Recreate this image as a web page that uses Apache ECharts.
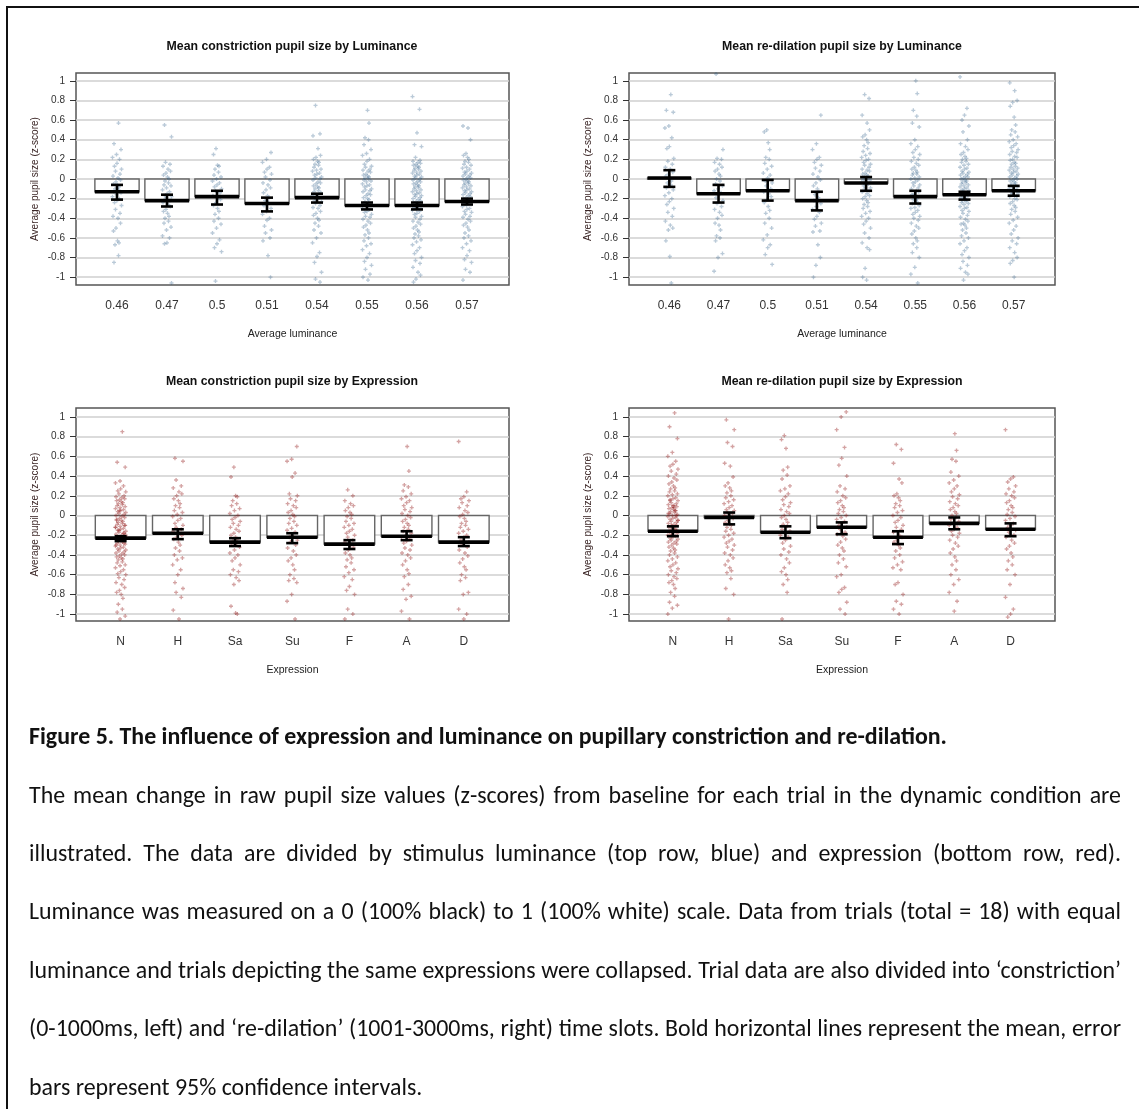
<!DOCTYPE html>
<html>
<head>
<meta charset="utf-8">
<title>Figure 5</title>
<script src="https://cdn.jsdelivr.net/npm/echarts@6/dist/echarts.min.js"></script>
<style>
  html, body { margin: 0; padding: 0; background: #fff; }
  #page { position: relative; width: 1139px; height: 1109px; overflow: hidden; background: #fff; }
  #chart { position: absolute; left: 0; top: 0; width: 1139px; height: 700px; }
  #frame { position: absolute; left: 6px; top: 6px; width: 1200px; height: 1200px;
           border-left: 2px solid #111; border-top: 2px solid #111; pointer-events: none; }
  .cap { position: absolute; left: 29px; width: 1092px; height: 30px; line-height: 30px;
         font-family: "Carlito", "Liberation Sans Narrow", "DejaVu Sans Condensed", "Liberation Sans", sans-serif;
         font-size: 24px; color: #111; white-space: nowrap; }
  .cap.just { text-align: justify; text-align-last: justify; }
  .cap.bold { font-weight: bold; }
</style>
</head>
<body>
<div id="page">
  <div id="chart"></div>
  <div id="frame"></div>
  <div class="cap bold" style="top:721px">Figure 5. The influence of expression and luminance on pupillary constriction and re-dilation.</div>
  <div class="cap just" style="top:780px">The mean change in raw pupil size values (z-scores) from baseline for each trial in the dynamic condition are</div>
  <div class="cap just" style="top:838px">illustrated. The data are divided by stimulus luminance (top row, blue) and expression (bottom row, red).</div>
  <div class="cap just" style="top:896px">Luminance was measured on a 0 (100% black) to 1 (100% white) scale. Data from trials (total = 18) with equal</div>
  <div class="cap just" style="top:955px">luminance and trials depicting the same expressions were collapsed. Trial data are also divided into ‘constriction’</div>
  <div class="cap just" style="top:1013px">(0-1000ms, left) and ‘re-dilation’ (1001-3000ms, right) time slots. Bold horizontal lines represent the mean, error</div>
  <div class="cap" style="top:1072px">bars represent 95% confidence intervals.</div>
</div>
<script>
// categories
const lumCats = ['0.46', '0.47', '0.5', '0.51', '0.54', '0.55', '0.56', '0.57']
const expCats = ['N', 'H', 'Sa', 'Su', 'F', 'A', 'D']
const yTicks = [-1, -0.8, -0.6, -0.4, -0.2, 0, 0.2, 0.4, 0.6, 0.8, 1]

// means and 95% CI, constriction by luminance
const conLumMean = [-0.13, -0.22, -0.18, -0.25, -0.19, -0.27, -0.27, -0.23]
const conLumLo = [-0.21, -0.28, -0.26, -0.33, -0.24, -0.31, -0.31, -0.26]
const conLumHi = [-0.06, -0.16, -0.12, -0.19, -0.15, -0.24, -0.24, -0.2]

// re-dilation by luminance
const rdLumMean = [0.01, -0.15, -0.12, -0.22, -0.04, -0.18, -0.16, -0.12]
const rdLumLo = [-0.08, -0.24, -0.22, -0.32, -0.12, -0.25, -0.21, -0.17]
const rdLumHi = [0.09, -0.06, -0.01, -0.13, 0.02, -0.12, -0.13, -0.07]

// constriction by expression
const conExpMean = [-0.23, -0.18, -0.27, -0.22, -0.29, -0.21, -0.27]
const conExpLo = [-0.26, -0.24, -0.31, -0.28, -0.34, -0.25, -0.31]
const conExpHi = [-0.21, -0.14, -0.23, -0.18, -0.25, -0.16, -0.22]

// re-dilation by expression
const rdExpMean = [-0.16, -0.02, -0.17, -0.12, -0.22, -0.08, -0.14]
const rdExpLo = [-0.21, -0.09, -0.23, -0.19, -0.29, -0.14, -0.21]
const rdExpHi = [-0.11, 0.03, -0.11, -0.07, -0.16, -0.02, -0.08]

// trial values (z-scores), one list per category
const conLumPts = [
  [0.57,0.36,0.3,0.25,0.22,0.2,0.16,0.13,0.1,0.08,0.05,0.03,0.01,-0.01,-0.03,-0.05,-0.06,-0.08,-0.1,-0.11,-0.13,-0.14,-0.16,-0.18,-0.2,-0.22,-0.24,-0.27,-0.31,-0.35,-0.38,-0.4,-0.45,-0.5,-0.53,-0.63,-0.65,-0.67,-0.78,-0.85],
  [0.55,0.43,0.17,0.15,0.13,0.1,0.08,0.06,0.04,0.02,0,-0.02,-0.04,-0.06,-0.07,-0.09,-0.11,-0.13,-0.15,-0.17,-0.18,-0.2,-0.22,-0.24,-0.26,-0.28,-0.31,-0.33,-0.35,-0.38,-0.4,-0.43,-0.45,-0.49,-0.52,-0.58,-0.6,-0.65,-0.66,-1.06],
  [0.31,0.25,0.14,0.13,0.1,0.07,0.04,0.02,0,-0.02,-0.04,-0.06,-0.08,-0.1,-0.12,-0.14,-0.17,-0.19,-0.21,-0.24,-0.27,-0.3,-0.33,-0.36,-0.4,-0.43,-0.46,-0.5,-0.55,-0.62,-0.66,-0.7,-0.74,-1.04],
  [0.27,0.2,0.17,0.12,0.1,0.07,0.05,0.02,-0.01,-0.04,-0.06,-0.09,-0.11,-0.14,-0.17,-0.19,-0.22,-0.24,-0.27,-0.3,-0.33,-0.36,-0.4,-0.42,-0.48,-0.52,-0.55,-0.6,-0.63,-0.78,-1.0],
  [0.75,0.46,0.44,0.31,0.24,0.22,0.2,0.18,0.17,0.15,0.14,0.12,0.1,0.09,0.08,0.06,0.05,0.04,0.02,0.01,0,-0.01,-0.03,-0.04,-0.05,-0.07,-0.08,-0.09,-0.1,-0.12,-0.13,-0.14,-0.16,-0.17,-0.19,-0.2,-0.22,-0.23,-0.25,-0.27,-0.29,-0.3,-0.33,-0.35,-0.37,-0.4,-0.42,-0.45,-0.48,-0.52,-0.55,-0.6,-0.65,-0.75,-0.79,-0.85,-0.95,-1.02,-1.05],
  [0.7,0.57,0.42,0.4,0.35,0.3,0.26,0.24,0.2,0.18,0.15,0.13,0.12,0.1,0.09,0.08,0.07,0.05,0.04,0.03,0.02,0.01,0,-0.01,-0.02,-0.03,-0.05,-0.06,-0.07,-0.08,-0.1,-0.11,-0.12,-0.13,-0.15,-0.16,-0.17,-0.19,-0.2,-0.21,-0.23,-0.24,-0.25,-0.27,-0.28,-0.3,-0.31,-0.33,-0.34,-0.36,-0.38,-0.39,-0.41,-0.43,-0.45,-0.47,-0.49,-0.52,-0.55,-0.57,-0.6,-0.63,-0.66,-0.68,-0.72,-0.76,-0.8,-0.84,-0.88,-0.92,-0.97,-1.0,-1.03],
  [0.84,0.71,0.47,0.35,0.33,0.22,0.19,0.18,0.17,0.16,0.15,0.14,0.13,0.12,0.11,0.1,0.09,0.08,0.07,0.06,0.05,0.04,0.03,0.02,0.01,0,-0.01,-0.02,-0.03,-0.04,-0.05,-0.06,-0.07,-0.08,-0.09,-0.1,-0.11,-0.12,-0.13,-0.14,-0.15,-0.16,-0.17,-0.18,-0.19,-0.2,-0.21,-0.22,-0.23,-0.24,-0.25,-0.26,-0.27,-0.28,-0.29,-0.3,-0.31,-0.32,-0.33,-0.35,-0.36,-0.38,-0.39,-0.41,-0.43,-0.44,-0.46,-0.48,-0.5,-0.52,-0.54,-0.56,-0.58,-0.6,-0.62,-0.64,-0.67,-0.7,-0.73,-0.76,-0.8,-0.83,-0.86,-0.9,-0.95,-0.98,-1.02,-1.05],
  [0.54,0.52,0.4,0.26,0.24,0.22,0.2,0.18,0.17,0.15,0.14,0.12,0.11,0.1,0.08,0.07,0.06,0.05,0.04,0.03,0.02,0.01,0,-0.01,-0.02,-0.03,-0.04,-0.05,-0.06,-0.07,-0.08,-0.09,-0.1,-0.11,-0.12,-0.13,-0.14,-0.15,-0.16,-0.17,-0.18,-0.19,-0.2,-0.21,-0.22,-0.23,-0.24,-0.25,-0.26,-0.27,-0.28,-0.3,-0.31,-0.33,-0.34,-0.36,-0.38,-0.39,-0.41,-0.43,-0.45,-0.47,-0.49,-0.52,-0.55,-0.58,-0.6,-0.63,-0.66,-0.7,-0.73,-0.78,-0.82,-0.85,-0.92,-0.95,-1.03]
]
const rdLumPts = [
  [0.86,0.7,0.68,0.54,0.52,0.42,0.33,0.31,0.21,0.18,0.15,0.12,0.1,0.07,0.05,0.03,0.01,-0.02,-0.04,-0.06,-0.09,-0.11,-0.14,-0.17,-0.2,-0.23,-0.26,-0.3,-0.34,-0.38,-0.43,-0.47,-0.5,-0.52,-0.63,-0.79,-1.06],
  [1.07,0.3,0.21,0.2,0.17,0.15,0.12,0.1,0.08,0.05,0.03,0,-0.02,-0.05,-0.07,-0.1,-0.12,-0.14,-0.17,-0.19,-0.22,-0.25,-0.28,-0.31,-0.34,-0.37,-0.4,-0.45,-0.47,-0.52,-0.58,-0.6,-0.63,-0.76,-0.8,-0.94],
  [0.5,0.48,0.37,0.3,0.22,0.2,0.16,0.13,0.1,0.06,0.04,0.01,-0.02,-0.04,-0.07,-0.1,-0.13,-0.15,-0.18,-0.21,-0.24,-0.28,-0.32,-0.35,-0.4,-0.45,-0.5,-0.57,-0.62,-0.67,-0.7,-0.77,-0.87],
  [0.65,0.36,0.3,0.22,0.2,0.17,0.14,0.11,0.08,0.05,0.02,-0.01,-0.04,-0.07,-0.1,-0.13,-0.16,-0.19,-0.22,-0.25,-0.28,-0.31,-0.34,-0.38,-0.41,-0.45,-0.48,-0.53,-0.54,-0.67,-0.8,-0.88,-1.0],
  [0.86,0.82,0.65,0.57,0.5,0.45,0.43,0.4,0.37,0.34,0.31,0.28,0.26,0.24,0.22,0.2,0.19,0.17,0.15,0.14,0.12,0.1,0.09,0.08,0.06,0.05,0.04,0.03,0.02,0.01,0,-0.01,-0.02,-0.03,-0.05,-0.06,-0.07,-0.09,-0.1,-0.12,-0.13,-0.15,-0.17,-0.18,-0.2,-0.22,-0.24,-0.26,-0.28,-0.3,-0.33,-0.35,-0.38,-0.4,-0.43,-0.46,-0.5,-0.55,-0.6,-0.65,-0.7,-0.72,-0.91,-1.0,-1.03],
  [1.0,0.87,0.7,0.64,0.57,0.53,0.4,0.36,0.33,0.3,0.27,0.25,0.22,0.2,0.18,0.16,0.14,0.12,0.1,0.09,0.07,0.06,0.05,0.04,0.02,0.01,0,-0.01,-0.03,-0.04,-0.06,-0.07,-0.09,-0.1,-0.12,-0.13,-0.15,-0.16,-0.18,-0.2,-0.21,-0.23,-0.25,-0.27,-0.29,-0.3,-0.32,-0.34,-0.36,-0.38,-0.4,-0.42,-0.45,-0.48,-0.5,-0.53,-0.56,-0.6,-0.63,-0.66,-0.7,-0.75,-0.8,-0.9,-0.97,-1.06],
  [1.04,0.72,0.65,0.6,0.54,0.48,0.4,0.36,0.33,0.3,0.27,0.25,0.23,0.21,0.2,0.18,0.17,0.15,0.14,0.12,0.11,0.1,0.08,0.07,0.06,0.05,0.04,0.03,0.02,0.01,0,-0.01,-0.02,-0.03,-0.04,-0.05,-0.06,-0.07,-0.08,-0.09,-0.1,-0.11,-0.12,-0.13,-0.14,-0.15,-0.16,-0.17,-0.18,-0.19,-0.2,-0.21,-0.22,-0.23,-0.24,-0.25,-0.26,-0.28,-0.29,-0.3,-0.32,-0.33,-0.35,-0.37,-0.39,-0.41,-0.43,-0.45,-0.46,-0.47,-0.5,-0.52,-0.55,-0.58,-0.6,-0.63,-0.66,-0.7,-0.73,-0.77,-0.8,-0.84,-0.88,-0.91,-0.95,-0.97,-1.03],
  [0.98,0.9,0.8,0.78,0.74,0.63,0.55,0.5,0.48,0.45,0.43,0.4,0.38,0.36,0.34,0.32,0.3,0.28,0.27,0.25,0.23,0.22,0.2,0.19,0.17,0.16,0.15,0.13,0.12,0.11,0.1,0.09,0.08,0.07,0.06,0.05,0.04,0.03,0.02,0.01,0,-0.01,-0.02,-0.03,-0.04,-0.05,-0.06,-0.07,-0.08,-0.09,-0.1,-0.11,-0.12,-0.13,-0.14,-0.15,-0.17,-0.18,-0.2,-0.21,-0.23,-0.25,-0.27,-0.29,-0.31,-0.33,-0.36,-0.39,-0.42,-0.45,-0.48,-0.52,-0.56,-0.6,-0.63,-0.66,-0.7,-0.75,-0.8,-0.83,-0.86,-1.0]
]
const conExpPts = [
  [0.85,0.54,0.49,0.35,0.33,0.3,0.27,0.25,0.24,0.22,0.2,0.19,0.18,0.17,0.16,0.15,0.14,0.13,0.12,0.11,0.1,0.09,0.08,0.07,0.06,0.05,0.04,0.03,0.02,0.01,0,-0.01,-0.02,-0.03,-0.04,-0.05,-0.06,-0.07,-0.08,-0.09,-0.1,-0.11,-0.12,-0.13,-0.14,-0.15,-0.16,-0.17,-0.18,-0.19,-0.2,-0.21,-0.22,-0.23,-0.24,-0.25,-0.26,-0.27,-0.28,-0.29,-0.3,-0.31,-0.32,-0.33,-0.34,-0.35,-0.36,-0.37,-0.38,-0.39,-0.4,-0.41,-0.42,-0.43,-0.44,-0.45,-0.47,-0.48,-0.5,-0.51,-0.53,-0.55,-0.57,-0.59,-0.6,-0.63,-0.65,-0.68,-0.7,-0.73,-0.76,-0.78,-0.8,-0.84,-0.9,-0.95,-0.98,-1.02,-1.05,-0.12,-0.18,-0.22,-0.25,-0.2,-0.15,-0.28,-0.3,-0.24,-0.1,0.05,-0.05],
  [0.58,0.55,0.36,0.3,0.28,0.24,0.22,0.2,0.17,0.15,0.12,0.1,0.08,0.05,0.03,0.01,-0.01,-0.03,-0.05,-0.08,-0.1,-0.12,-0.14,-0.16,-0.18,-0.2,-0.22,-0.24,-0.27,-0.3,-0.33,-0.36,-0.4,-0.43,-0.45,-0.5,-0.55,-0.6,-0.68,-0.74,-0.78,-0.83,-0.96,-1.05],
  [0.49,0.39,0.2,0.19,0.15,0.12,0.1,0.07,0.05,0.02,0,-0.02,-0.04,-0.06,-0.08,-0.1,-0.12,-0.14,-0.16,-0.18,-0.2,-0.22,-0.24,-0.26,-0.28,-0.3,-0.32,-0.35,-0.38,-0.4,-0.43,-0.46,-0.5,-0.55,-0.57,-0.6,-0.63,-0.66,-0.7,-0.92,-0.99,-1.0],
  [0.7,0.57,0.55,0.43,0.39,0.22,0.2,0.17,0.15,0.12,0.1,0.08,0.05,0.03,0.01,-0.01,-0.03,-0.06,-0.08,-0.1,-0.13,-0.15,-0.17,-0.2,-0.22,-0.25,-0.27,-0.3,-0.33,-0.36,-0.4,-0.43,-0.46,-0.5,-0.55,-0.6,-0.64,-0.66,-0.68,-0.8,-0.87,-1.05],
  [0.26,0.2,0.15,0.12,0.1,0.08,0.05,0.03,0.01,-0.01,-0.03,-0.06,-0.08,-0.1,-0.12,-0.14,-0.16,-0.18,-0.2,-0.22,-0.25,-0.27,-0.3,-0.32,-0.35,-0.38,-0.4,-0.43,-0.45,-0.48,-0.52,-0.55,-0.58,-0.62,-0.65,-0.72,-0.76,-0.8,-0.95,-1.0,-1.05],
  [0.7,0.45,0.31,0.29,0.25,0.22,0.19,0.17,0.15,0.13,0.1,0.08,0.06,0.04,0.02,0,-0.02,-0.04,-0.06,-0.08,-0.1,-0.12,-0.14,-0.16,-0.18,-0.2,-0.22,-0.24,-0.26,-0.28,-0.3,-0.33,-0.35,-0.38,-0.4,-0.43,-0.46,-0.5,-0.55,-0.59,-0.62,-0.7,-0.75,-0.82,-0.85,-0.97,-1.05],
  [0.75,0.24,0.19,0.17,0.15,0.13,0.1,0.08,0.05,0.03,0.01,-0.01,-0.03,-0.06,-0.08,-0.1,-0.12,-0.14,-0.16,-0.18,-0.2,-0.22,-0.25,-0.27,-0.3,-0.32,-0.35,-0.38,-0.41,-0.44,-0.48,-0.52,-0.55,-0.6,-0.63,-0.66,-0.78,-0.8,-0.95,-1.0,-1.05]
]
const rdExpPts = [
  [1.04,0.9,0.78,0.64,0.6,0.55,0.52,0.5,0.47,0.45,0.42,0.4,0.38,0.36,0.34,0.32,0.3,0.28,0.27,0.25,0.24,0.22,0.21,0.2,0.18,0.17,0.16,0.15,0.13,0.12,0.11,0.1,0.09,0.08,0.07,0.06,0.05,0.04,0.03,0.02,0.01,0,-0.01,-0.02,-0.03,-0.04,-0.05,-0.06,-0.07,-0.08,-0.09,-0.1,-0.11,-0.12,-0.13,-0.14,-0.15,-0.16,-0.17,-0.18,-0.19,-0.2,-0.21,-0.22,-0.23,-0.24,-0.25,-0.26,-0.27,-0.28,-0.29,-0.3,-0.32,-0.33,-0.35,-0.36,-0.38,-0.4,-0.42,-0.44,-0.46,-0.48,-0.5,-0.52,-0.54,-0.56,-0.58,-0.6,-0.62,-0.64,-0.66,-0.68,-0.7,-0.74,-0.78,-0.82,-0.88,-0.91,-0.94,-1.0,0.05,0.1,0.15,-0.05,-0.1,0,0.02,0.08,-0.15,-0.2],
  [0.97,0.87,0.74,0.7,0.53,0.5,0.39,0.33,0.3,0.28,0.25,0.23,0.2,0.18,0.16,0.14,0.12,0.1,0.08,0.06,0.05,0.03,0.02,0,-0.02,-0.03,-0.05,-0.07,-0.09,-0.1,-0.12,-0.14,-0.16,-0.18,-0.2,-0.22,-0.24,-0.26,-0.28,-0.3,-0.32,-0.35,-0.38,-0.4,-0.43,-0.46,-0.5,-0.53,-0.56,-0.58,-0.64,-0.74,-0.8,-1.05],
  [0.81,0.77,0.68,0.49,0.46,0.41,0.37,0.3,0.27,0.25,0.22,0.19,0.16,0.13,0.11,0.09,0.06,0.04,0.02,0,-0.02,-0.04,-0.07,-0.09,-0.11,-0.14,-0.16,-0.18,-0.2,-0.22,-0.25,-0.28,-0.31,-0.34,-0.37,-0.4,-0.44,-0.48,-0.53,-0.57,-0.6,-0.65,-0.7,-0.78,-1.05],
  [1.05,1.0,0.87,0.69,0.58,0.51,0.4,0.3,0.27,0.24,0.2,0.18,0.15,0.13,0.1,0.08,0.06,0.04,0.02,0,-0.02,-0.04,-0.06,-0.08,-0.1,-0.12,-0.14,-0.17,-0.19,-0.21,-0.24,-0.27,-0.3,-0.33,-0.36,-0.4,-0.44,-0.48,-0.52,-0.6,-0.62,-0.73,-0.75,-0.78,-0.88,-0.95,-1.0],
  [0.72,0.67,0.53,0.37,0.33,0.22,0.2,0.18,0.15,0.12,0.1,0.08,0.05,0.03,0,-0.02,-0.05,-0.07,-0.1,-0.12,-0.14,-0.17,-0.2,-0.22,-0.25,-0.27,-0.3,-0.33,-0.36,-0.4,-0.43,-0.47,-0.5,-0.53,-0.55,-0.68,-0.7,-0.8,-0.87,-0.9,-0.95,-1.0],
  [0.83,0.66,0.57,0.55,0.44,0.4,0.36,0.33,0.3,0.27,0.24,0.21,0.19,0.17,0.14,0.12,0.1,0.08,0.06,0.04,0.02,0,-0.02,-0.04,-0.06,-0.08,-0.1,-0.12,-0.14,-0.16,-0.18,-0.2,-0.22,-0.25,-0.28,-0.31,-0.34,-0.38,-0.42,-0.46,-0.5,-0.55,-0.6,-0.65,-0.7,-0.78,-0.87,-0.97],
  [0.87,0.39,0.37,0.34,0.3,0.27,0.24,0.22,0.2,0.18,0.15,0.13,0.1,0.08,0.06,0.03,0.01,-0.01,-0.03,-0.05,-0.08,-0.1,-0.12,-0.15,-0.17,-0.2,-0.22,-0.25,-0.28,-0.31,-0.34,-0.38,-0.42,-0.46,-0.5,-0.55,-0.6,-0.7,-0.83,-0.95,-1.0,-1.03]
]

// horizontal jitter of the dots, in category units
const jitter = [0.03, -0.06, 0.08, -0.01, -0.09, 0.05, 0, -0.05, 0.09, -0.03, 0.06, -0.08, 0.02, 0.07, -0.02, -0.07, 0.01, 0.04, -0.04]

const font = 'Liberation Sans, Arial, sans-serif'
const barW = 0.885
const blueDot = 'rgba(40, 90, 135, 0.4)'
const redDot = 'rgba(135, 0, 0, 0.45)'
const plusSym = 'path://M1,0h1v1h1v1h-1v1h-1v-1h-1v-1h1z'

/*panel layout*/
const panels = [
  { title: 'Mean constriction pupil size by Luminance', cats: lumCats, mean: conLumMean, lo: conLumLo, hi: conLumHi, pts: conLumPts, dot: blueDot, xName: 'Average luminance',
    grid: { left: 76, top: 73, width: 433, height: 212 }, xMin: 0.18, xMax: 8.84, yMin: -1.08, yMax: 1.08, tx: 292, ty: 47 },
  { title: 'Mean re-dilation pupil size by Luminance', cats: lumCats, mean: rdLumMean, lo: rdLumLo, hi: rdLumHi, pts: rdLumPts, dot: blueDot, xName: 'Average luminance',
    grid: { left: 629, top: 73, width: 426, height: 212 }, xMin: 0.18, xMax: 8.84, yMin: -1.08, yMax: 1.08, tx: 842, ty: 47 },
  { title: 'Mean constriction pupil size by Expression', cats: expCats, mean: conExpMean, lo: conExpLo, hi: conExpHi, pts: conExpPts, dot: redDot, xName: 'Expression',
    grid: { left: 76, top: 408, width: 433, height: 213 }, xMin: 0.22, xMax: 7.79, yMin: -1.07, yMax: 1.09, tx: 292, ty: 382 },
  { title: 'Mean re-dilation pupil size by Expression', cats: expCats, mean: rdExpMean, lo: rdExpLo, hi: rdExpHi, pts: rdExpPts, dot: redDot, xName: 'Expression',
    grid: { left: 629, top: 408, width: 426, height: 213 }, xMin: 0.22, xMax: 7.79, yMin: -1.07, yMax: 1.09, tx: 842, ty: 382 }
]

/*bar from 0 to the mean*/
const renderBar = (params, api) => {
  const x = api.value(0)
  const m = api.value(1)
  const w = api.size([barW, 0])[0]
  const p0 = api.coord([x, 0])
  const p1 = api.coord([x, m])
  return {
    type: 'rect',
    shape: { x: p0[0] - w / 2, y: Math.min(p0[1], p1[1]), width: w, height: Math.abs(p1[1] - p0[1]) },
    style: { fill: '#fff', stroke: '#666', lineWidth: 1.4 }
  }
}

/*bold mean line plus error bar*/
const renderMean = (params, api) => {
  const x = api.value(0)
  const w = api.size([barW, 0])[0]
  const pm = api.coord([x, api.value(1)])
  const pl = api.coord([x, api.value(2)])
  const ph = api.coord([x, api.value(3)])
  const cap = 6
  const st = { stroke: '#000', lineWidth: 2.6 }
  return {
    type: 'group',
    children: [
      { type: 'line', shape: { x1: pm[0] - w / 2, y1: pm[1], x2: pm[0] + w / 2, y2: pm[1] }, style: { stroke: '#000', lineWidth: 3.6 } },
      { type: 'line', shape: { x1: pl[0], y1: pl[1], x2: ph[0], y2: ph[1] }, style: st },
      { type: 'line', shape: { x1: pl[0] - cap, y1: pl[1], x2: pl[0] + cap, y2: pl[1] }, style: st },
      { type: 'line', shape: { x1: ph[0] - cap, y1: ph[1], x2: ph[0] + cap, y2: ph[1] }, style: st }
    ]
  }
}

const grids = []
const xAxes = []
const yAxes = []
const series = []
const graphics = []

panels.forEach((p, k) => {
  const pos = p.cats.map((c, i) => i + 1)
  grids.push(Object.assign({ show: true, borderColor: '#555', borderWidth: 1.5, backgroundColor: '#fff' }, p.grid))
  xAxes.push({
    type: 'value', gridIndex: k, min: p.xMin, max: p.xMax,
    name: p.xName, nameLocation: 'middle', nameGap: 44,
    nameTextStyle: { fontFamily: font, fontSize: 10.5, color: '#222' },
    axisLine: { show: false },
    axisTick: { show: true, customValues: pos, length: 7, lineStyle: { color: '#333', width: 1 } },
    axisLabel: { customValues: pos, margin: 15, fontFamily: font, fontSize: 12, color: '#333',
      formatter: v => p.cats[Math.round(v) - 1] },
    splitLine: { show: false }
  })
  yAxes.push({
    type: 'value', gridIndex: k, min: p.yMin, max: p.yMax,
    name: 'Average pupil size (z-score)', nameLocation: 'middle', nameGap: 36, nameRotate: 90,
    nameTextStyle: { fontFamily: font, fontSize: 10, color: '#3b2626' },
    axisLine: { show: false },
    axisTick: { show: true, customValues: yTicks, length: 6, lineStyle: { color: '#333', width: 1 } },
    axisLabel: { customValues: yTicks, margin: 11, fontFamily: font, fontSize: 10, color: '#333',
      formatter: v => String(+(+v).toFixed(1)) },
    splitLine: { show: true, lineStyle: { color: '#cfcfcf', width: 1.5 } }
  })

  const stats = p.cats.map((c, i) => [i + 1, p.mean[i], p.lo[i], p.hi[i]])
  series.push({
    type: 'custom', xAxisIndex: k, yAxisIndex: k, z: 2,
    renderItem: renderBar, data: stats, silent: true
  })
  const dots = []
  p.pts.forEach((vals, i) => {
    vals.forEach((v, j) => {
      dots.push([i + 1 + jitter[(j + i * 7) % jitter.length], v])
    })
  })
  series.push({
    type: 'scatter', xAxisIndex: k, yAxisIndex: k, z: 3,
    symbol: plusSym, symbolSize: 4, clip: true, silent: true,
    itemStyle: { color: p.dot },
    data: dots
  })
  series.push({
    type: 'custom', xAxisIndex: k, yAxisIndex: k, z: 4,
    renderItem: renderMean, data: stats, silent: true
  })
  graphics.push({
    type: 'text', x: p.tx, y: p.ty,
    style: { text: p.title, fontFamily: font, fontWeight: 'bold', fontSize: 12.3, fill: '#111',
      textAlign: 'center', textVerticalAlign: 'middle' }
  })
})

const chart = echarts.init(document.getElementById('chart'), null, { renderer: 'canvas' })
chart.setOption({
  backgroundColor: '#fff',
  animation: false,
  grid: grids,
  xAxis: xAxes,
  yAxis: yAxes,
  series: series,
  graphic: graphics
})

/*shrink caption font if a line is too wide for the column*/
const fitCaption = () => {
  const lines = Array.from(document.querySelectorAll('.cap'))
  let widest = 0
  lines.forEach(el => {
    const probe = document.createElement('span')
    probe.style.font = getComputedStyle(el).font
    probe.style.whiteSpace = 'nowrap'
    probe.style.position = 'absolute'
    probe.style.visibility = 'hidden'
    probe.textContent = el.textContent
    document.body.appendChild(probe)
    if (el.classList.contains('just')) widest = Math.max(widest, probe.getBoundingClientRect().width)
    probe.remove()
  })
  if (widest > 1092) {
    const size = Math.floor(24 * 1090 / widest * 10) / 10
    lines.forEach(el => { el.style.fontSize = size + 'px' })
  }
}
fitCaption()
</script>
</body>
</html>
